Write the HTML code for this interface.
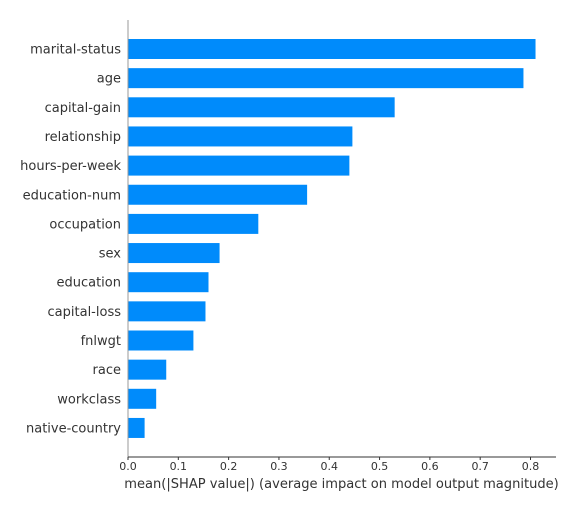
<!DOCTYPE html>
<html><head><meta charset="utf-8"><style>
html,body{margin:0;padding:0;background:#fff;}
svg text{font-family:"DejaVu Sans","Liberation Sans",sans-serif;fill:#333;}
</style></head><body>
<svg id="chart" width="576" height="511" viewBox="0 0 576 511">
<g id="bars"></g>
<g id="ylabels"></g>
<line x1="128" y1="20" x2="128" y2="457" stroke="#999" stroke-width="1"/>
<line x1="128" y1="457" x2="556" y2="457" stroke="#333" stroke-width="1"/>
<g id="xticks"></g>
<text x="341.5" y="488" font-size="13.05" text-anchor="middle">mean(|SHAP value|) (average impact on model output magnitude)</text>
</svg>
<script>
const features = ["marital-status","age","capital-gain","relationship","hours-per-week","education-num","occupation","sex","education","capital-loss","fnlwgt","race","workclass","native-country"];
const values = [0.810,0.786,0.530,0.446,0.440,0.356,0.259,0.182,0.160,0.154,0.130,0.076,0.056,0.033];
const ticks = [0,0.1,0.2,0.3,0.4,0.5,0.6,0.7,0.8];
const tickLabels = ["0.0","0.1","0.2","0.3","0.4","0.5","0.6","0.7","0.8"];
const NS="http://www.w3.org/2000/svg";
const x = v => 128 + v/0.8*(530.5-128);
const y = i => 49 + i*29.15;
const bars=document.getElementById('bars'), yl=document.getElementById('ylabels'), xt=document.getElementById('xticks');
features.forEach((f,i)=>{
  const r=document.createElementNS(NS,'rect');
  r.setAttribute('x',x(0)); r.setAttribute('y',y(i)-10);
  r.setAttribute('width',x(values[i])-x(0)); r.setAttribute('height',20);
  r.setAttribute('fill','#008bfb');
  
  
  bars.appendChild(r);
  const t=document.createElementNS(NS,'text');
  t.setAttribute('x',121); t.setAttribute('y',y(i)+4.5);
  t.setAttribute('font-size','13'); t.setAttribute('text-anchor','end');
  t.textContent=f;
  
  
  yl.appendChild(t);
});
ticks.forEach((v,i)=>{
  const l=document.createElementNS(NS,'line');
  l.setAttribute('x1',x(v)); l.setAttribute('x2',x(v));
  l.setAttribute('y1',457); l.setAttribute('y2',460); l.setAttribute('stroke','#333');
  
  
  xt.appendChild(l);
  const t=document.createElementNS(NS,'text');
  t.setAttribute('x',x(v)); t.setAttribute('y',470);
  t.setAttribute('font-size','11'); t.setAttribute('text-anchor','middle');
  t.textContent=tickLabels[i];
  
  
  xt.appendChild(t);
});
</script>
</body></html>
